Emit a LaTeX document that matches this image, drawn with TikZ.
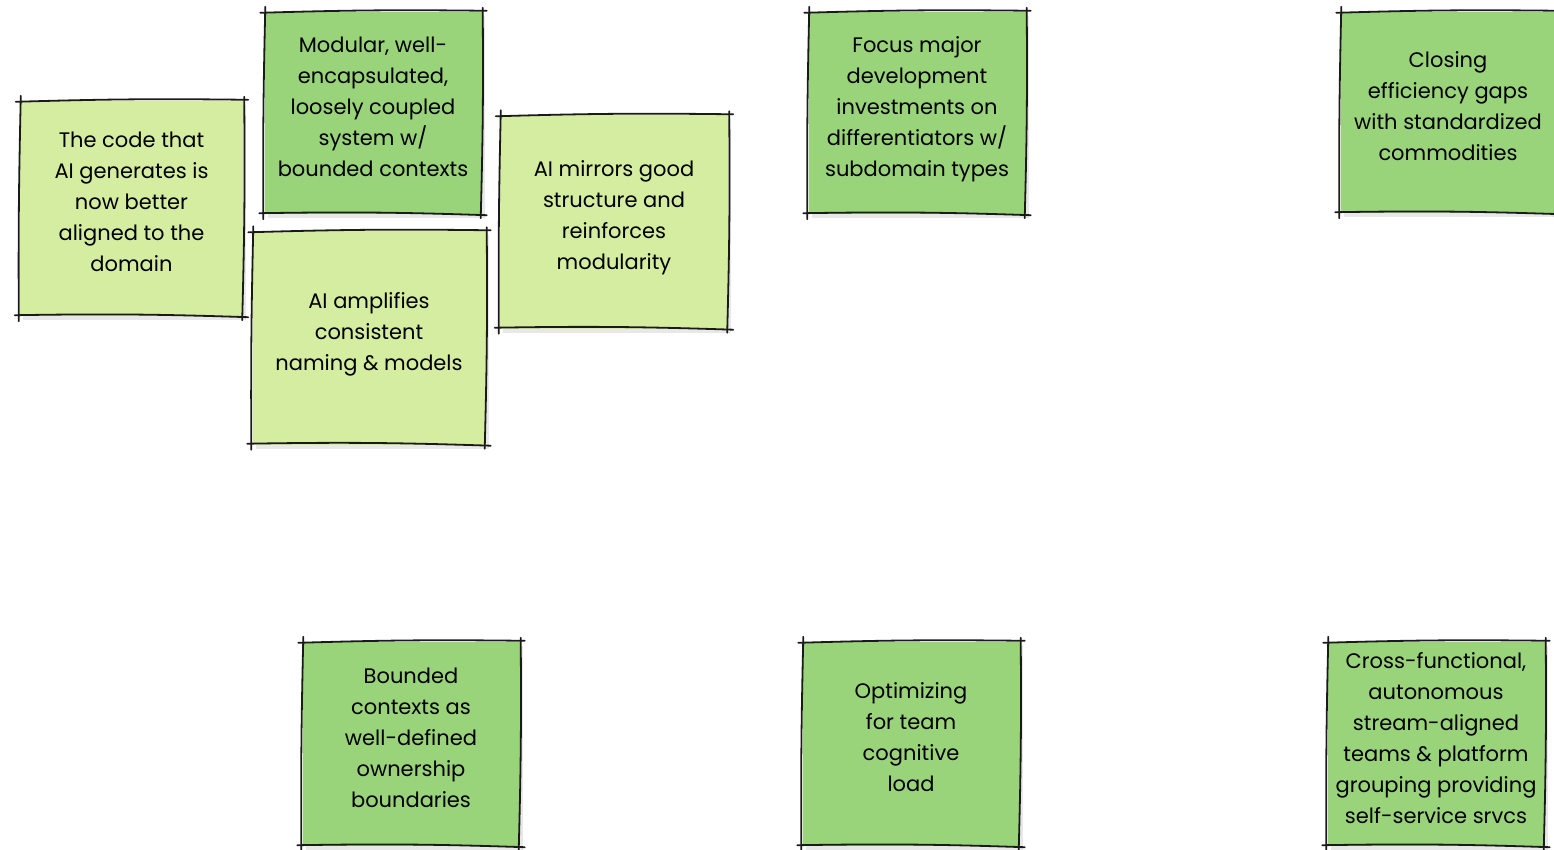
\documentclass[tikz,border=0pt]{standalone}
\usepackage{fontspec}
\setmainfont{Poppins}
\usepackage{tikz}
\usetikzlibrary{positioning, calc, shadows}

\definecolor{stickylight}{RGB}{212,237,160}
\definecolor{stickydark}{RGB}{153,211,122}
\definecolor{penink}{RGB}{26,26,26}

\tikzset{
    sticky/.style={rectangle, fill=#1, align=center, text=black, inner sep=0pt,
        font=\fontsize{21}{31}\selectfont, text depth=13pt,
        drop shadow={opacity=0.18, shadow xshift=3pt, shadow yshift=-4pt}},
    stickysize/.style 2 args={minimum width=#1, minimum height=#2},
    penline/.style={draw=penink, line width=1.8pt, line cap=round}
}

% hand-drawn outline round a sticky note
\newcommand{\penframe}[1]{%
    \draw[penline] ($(#1.north west)+(-4,1)$) to[bend left=1.2] ($(#1.north east)+(5,-1)$);
    \draw[penline] ($(#1.north east)+(1,-4)$) to[bend left=1.0] ($(#1.south east)+(-1,4)$);
    \draw[penline] ($(#1.south east)+(5,1)$) to[bend right=1.4] ($(#1.south west)+(-5,-1)$);
    \draw[penline] ($(#1.south west)+(-1,5)$) to[bend left=0.8] ($(#1.north west)+(1,-5)$);
}

\begin{document}
\begin{tikzpicture}[x=1pt, y=-1pt]

\useasboundingbox (0,0) rectangle (1554,850);
\clip (0,0) rectangle (1554,850);

% domain side
\node[sticky=stickylight, stickysize={223pt}{215pt}] (codeNote) at (131.5,208.5)
    {The code that\\AI generates is\\now better\\aligned to the\\domain};
\node[sticky=stickydark, stickysize={217pt}{202pt}] (modularNote) at (373,113)
    {Modular, well-\\encapsulated,\\loosely coupled\\system w/\\bounded contexts};
\node[sticky=stickylight, stickysize={233pt}{213pt}] (amplifyNote) at (369,338)
    {AI amplifies\\consistent\\naming \& models};
\node[sticky=stickylight, stickysize={228pt}{213pt}] (mirrorNote) at (614,222)
    {AI mirrors good\\structure and\\reinforces\\modularity};

% investment side
\node[sticky=stickydark, stickysize={217pt}{202pt}] (focusNote) at (917,113)
    {Focus major\\development\\investments on\\differentiators w/\\subdomain types};
\node[sticky=stickydark, stickysize={215pt}{201pt}] (closingNote) at (1448,112.5)
    {Closing\\efficiency gaps\\with standardized\\commodities};

% team side
\node[sticky=stickydark, stickysize={217pt}{204pt}] (boundedNote) at (411,744)
    {Bounded\\contexts as\\well-defined\\ownership\\boundaries};
\node[sticky=stickydark, stickysize={217pt}{204pt}] (optimizeNote) at (911,744)
    {Optimizing\\for team\\cognitive\\load};
\node[sticky=stickydark, stickysize={217pt}{204pt}] (crossNote) at (1436,744)
    {Cross-functional,\\autonomous\\stream-aligned\\teams \& platform\\grouping providing\\self-service srvcs};

\foreach \n in {codeNote, modularNote, amplifyNote, mirrorNote, focusNote, closingNote, boundedNote, optimizeNote, crossNote}
    {\penframe{\n}}

\end{tikzpicture}
\end{document}
